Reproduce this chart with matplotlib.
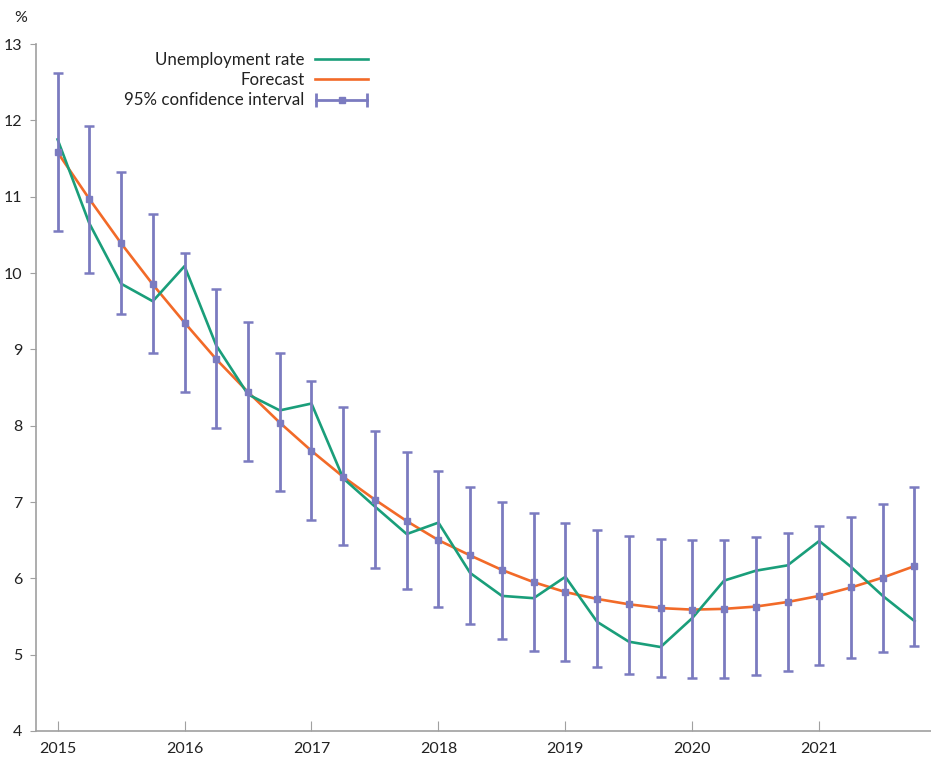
import numpy as np
import matplotlib
matplotlib.use("Agg")
import matplotlib.pyplot as plt
from matplotlib.lines import Line2D
from matplotlib.legend_handler import HandlerLine2D

plt.rcParams['font.family'] = ['Lato', 'DejaVu Sans']

# quarterly, 2015Q1 .. 2021Q4
quarters = 2015 + np.arange(28) * 0.25

unemployment = [11.75, 10.65, 9.86, 9.63, 10.09, 9.05, 8.41, 8.20, 8.29, 7.31,
                6.94, 6.58, 6.73, 6.07, 5.77, 5.74, 6.02, 5.43, 5.17, 5.10,
                5.48, 5.97, 6.10, 6.17, 6.49, 6.15, 5.77, 5.44]

forecast = [11.58, 10.97, 10.39, 9.85, 9.35, 8.87, 8.44, 8.04, 7.67, 7.33,
            7.03, 6.75, 6.50, 6.30, 6.11, 5.95, 5.82, 5.73, 5.66, 5.61,
            5.59, 5.60, 5.63, 5.69, 5.77, 5.88, 6.01, 6.16]

ci_upper = [12.62, 11.93, 11.32, 10.77, 10.26, 9.79, 9.36, 8.95, 8.58, 8.24,
            7.93, 7.65, 7.41, 7.19, 7.00, 6.85, 6.72, 6.63, 6.56, 6.52,
            6.50, 6.50, 6.54, 6.59, 6.69, 6.81, 6.97, 7.19]

ci_lower = [10.55, 10.00, 9.46, 8.95, 8.44, 7.97, 7.54, 7.14, 6.77, 6.44,
            6.13, 5.86, 5.62, 5.40, 5.21, 5.05, 4.92, 4.84, 4.75, 4.71,
            4.69, 4.69, 4.73, 4.79, 4.86, 4.95, 5.03, 5.12]

year_ticks = [2015, 2016, 2017, 2018, 2019, 2020, 2021]
y_ticks = [4, 5, 6, 7, 8, 9, 10, 11, 12, 13]

green = '#1a9e7a'
orange = '#f26a28'
purple = '#7b7bc0'

fig = plt.figure(figsize=(9.31, 7.63), dpi=100)
ax = fig.add_axes([36 / 931, 32 / 763, 895 / 931, 687 / 763])

fc = np.array(forecast)
err = [fc - np.array(ci_lower), np.array(ci_upper) - fc]

ax.plot(quarters, unemployment, color=green, lw=1.9, zorder=3)
ax.plot(quarters, forecast, color=orange, lw=1.9, zorder=2)
ax.errorbar(quarters, forecast, yerr=err, fmt='s', color=purple, ms=5,
            elinewidth=2, capsize=3.5, capthick=1.8, zorder=4)

ax.set_xlim(2014.83, 2021.88)
ax.set_ylim(4, 13)
ax.set_xticks(year_ticks)
ax.set_yticks(y_ticks)

for s in ['top', 'right']:
    ax.spines[s].set_visible(False)
for s in ['left', 'bottom']:
    ax.spines[s].set_color('#a0a0a0')
    ax.spines[s].set_linewidth(1.2)

ax.tick_params(axis='x', direction='in', length=7, color='#a0a0a0',
               labelsize=11.5, labelcolor='#222222', pad=8)
ax.tick_params(axis='y', direction='out', length=4, color='#a0a0a0',
               labelsize=11.5, labelcolor='#222222', pad=6)

fig.text(14 / 931, 1 - 18 / 763, '%', fontsize=11.5, color='#222222',
         va='center', ha='left')

# legend, text on the left, handles on the right
h_un = Line2D([], [], color=green, lw=1.9)
h_fc = Line2D([], [], color=orange, lw=1.9)
h_caps = Line2D([], [], color=purple, lw=2, marker='|', ms=10, mew=2)
h_sq = Line2D([], [], color=purple, lw=0, marker='s', ms=5)
leg = fig.legend([h_un, h_fc, (h_caps, h_sq)],
                 ['Unemployment rate', 'Forecast', '95% confidence interval'],
                 handler_map={h_caps: HandlerLine2D(numpoints=2, marker_pad=0.05),
                              h_sq: HandlerLine2D(numpoints=1)},
                 loc='upper right', bbox_to_anchor=(368 / 931, 1 - 52 / 763),
                 frameon=False, markerfirst=False, fontsize=12.2,
                 handlelength=3.1, handletextpad=0.65, labelspacing=0.25,
                 borderpad=0, borderaxespad=0)
for t in leg.get_texts():
    t.set_color('#222222')

fig.savefig('out.png', dpi=100)
